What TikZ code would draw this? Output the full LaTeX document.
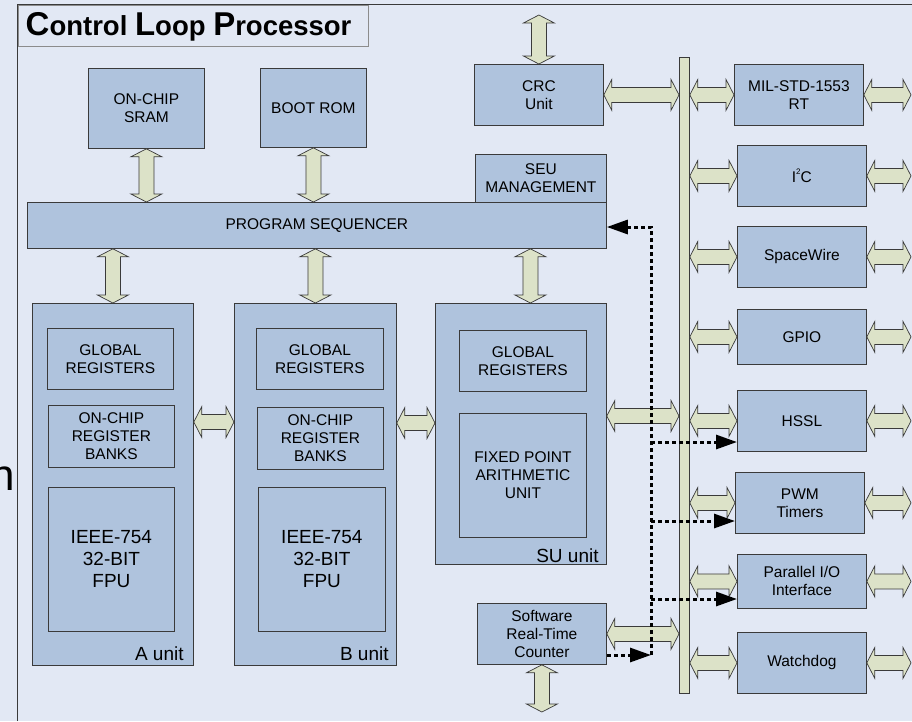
\documentclass[tikz,border=0pt]{standalone}
\usepackage{fontspec}
\setmainfont{Liberation Sans}
\usetikzlibrary{calc,arrows.meta}

\definecolor{bg}{HTML}{E2E8F4}
\definecolor{boxfill}{HTML}{AFC3DD}
\definecolor{pipe}{HTML}{DCE2C8}
\definecolor{edge}{HTML}{3A3A3A}
\definecolor{framegray}{HTML}{8C8C8C}

\newcommand\bx{\fontsize{15.5}{18}\selectfont}
\newcommand\bigbx{\fontsize{19}{22}\selectfont}

% wide two-headed bus arrow between two points
\newcommand\fatarrow[2]{%
  \path[fatbody] let \p1=#1, \p2=#2,
      \n1={atan2(\y2-\y1,\x2-\x1)},
      \n2={veclen(\x2-\x1,\y2-\y1)} in
    [shift={(\x1,\y1)}, rotate=\n1]
    (0pt,0pt) -- (8pt,15.5pt) -- (8pt,7.5pt) -- (\n2-8pt,7.5pt) -- (\n2-8pt,15.5pt)
    -- (\n2,0pt) -- (\n2-8pt,-15.5pt) -- (\n2-8pt,-7.5pt) -- (8pt,-7.5pt)
    -- (8pt,-15.5pt) -- cycle;}

\begin{document}
\begin{tikzpicture}[x=1pt,y=-1pt,
  blk/.style={draw=edge, fill=boxfill, line width=0.8pt, anchor=north west,
    align=center, inner sep=0pt, font=\bx},
  fatbody/.style={draw=edge, fill=pipe, line width=0.7pt, line join=miter},
  sig/.style={draw=black, line width=3pt, dash pattern=on 4pt off 3pt},
  tip/.style={-{Triangle[length=21pt,width=14pt]}},
  unitlbl/.style={anchor=base east, inner sep=0pt, font=\bigbx}]

% canvas
\fill[bg] (0,0) rectangle (912,721);
\useasboundingbox (0,0) rectangle (912,721);

% fragment of a word standing left of the frame
\node[anchor=base east, inner sep=0pt, font=\fontsize{44}{44}\selectfont] (frag) at (15,490) {n};

% title tab
\node[draw=framegray, line width=0.8pt, fill=bg, anchor=north west,
  minimum width=350pt, minimum height=41pt, inner sep=0pt] (tab) at (17.5,4.5) {};
\node[anchor=base west, inner sep=0pt, font=\bfseries] (title) at (25.5,35)
  {{\fontsize{33}{33}\selectfont C}{\fontsize{27.5}{33}\selectfont ontrol }%
   {\fontsize{33}{33}\selectfont L}{\fontsize{27.5}{33}\selectfont oop }%
   {\fontsize{33}{33}\selectfont P}{\fontsize{27.5}{33}\selectfont rocessor}};

% outer frame
\draw[edge, line width=1.6pt] (17.5,721) -- (17.5,4.5) -- (912,4.5);

% memories and sequencer
\node[blk, minimum width=116pt, minimum height=80pt] (sram) at (88,68) {ON-CHIP\\SRAM};
\node[blk, minimum width=106pt, minimum height=79pt] (boot) at (260,68) {BOOT ROM};
\node[blk, minimum width=129pt, minimum height=61pt] (crc) at (474,64) {CRC\\Unit};
\node[blk, minimum width=131pt, minimum height=48pt] (seu) at (475,154) {SEU\\MANAGEMENT};
\node[blk, minimum width=579pt, minimum height=46pt] (ps) at (27,202) {PROGRAM SEQUENCER};

% A unit
\node[blk, minimum width=161pt, minimum height=362pt] (aunit) at (32,303) {};
\node[blk, minimum width=126pt, minimum height=61pt] (aglob) at (47,328) {GLOBAL\\REGISTERS};
\node[blk, minimum width=126pt, minimum height=62pt] (abank) at (48,405) {ON-CHIP\\REGISTER\\BANKS};
\node[blk, minimum width=126pt, minimum height=144pt, font=\bigbx] (afpu) at (48,487) {IEEE-754\\32-BIT\\FPU};
\node[unitlbl] (alabel) at ([shift={(-10,-5)}]aunit.south east) {A unit};

% B unit
\node[blk, minimum width=162pt, minimum height=362pt] (bunit) at (234,303) {};
\node[blk, minimum width=127pt, minimum height=61pt] (bglob) at (256,328) {GLOBAL\\REGISTERS};
\node[blk, minimum width=126pt, minimum height=62pt] (bbank) at (257,407) {ON-CHIP\\REGISTER\\BANKS};
\node[blk, minimum width=127pt, minimum height=144pt, font=\bigbx] (bfpu) at (258,487) {IEEE-754\\32-BIT\\FPU};
\node[unitlbl] (blabel) at ([shift={(-8,-5)}]bunit.south east) {B unit};

% SU unit
\node[blk, minimum width=171pt, minimum height=261pt] (su) at (435,303) {};
\node[blk, minimum width=127pt, minimum height=61pt] (suglob) at (459,330) {GLOBAL\\REGISTERS};
\node[blk, minimum width=127pt, minimum height=124pt] (fpa) at (459,413) {FIXED POINT\\ARITHMETIC\\UNIT};
\node[unitlbl] (sulabel) at ([shift={(-8,-2)}]su.south east) {SU unit};

% real-time counter
\node[blk, minimum width=129pt, minimum height=61pt] (rtc) at (477,603) {Software\\Real-Time\\Counter};

% peripheral bus and peripherals
\node[draw=edge, fill=pipe, line width=0.8pt, anchor=north west, inner sep=0pt,
  minimum width=10pt, minimum height=636pt] (bus) at (679,57) {};
\node[blk, minimum width=129pt, minimum height=61pt] (mil) at (734,64) {MIL-STD-1553\\RT};
\node[blk, minimum width=129pt, minimum height=61pt] (iic) at (737,145)
  {I\raisebox{0.5em}{\fontsize{8}{8}\selectfont 2}C};
\node[blk, minimum width=129pt, minimum height=61pt] (spw) at (737,226) {SpaceWire};
\node[blk, minimum width=129pt, minimum height=55pt] (gpio) at (737,309) {GPIO};
\node[blk, minimum width=129pt, minimum height=61pt] (hssl) at (737,390) {HSSL};
\node[blk, minimum width=129pt, minimum height=61pt] (pwm) at (735,472) {PWM\\Timers};
\node[blk, minimum width=129pt, minimum height=54pt] (pio) at (737,554) {Parallel I/O\\Interface};
\node[blk, minimum width=129pt, minimum height=61pt] (wdog) at (737,632) {Watchdog};

% free ends of external links
\coordinate (crcio) at (crc.north |- 0,15);
\coordinate (rtcio) at (rtc.south |- 0,712);
\coordinate (milio) at (mil.east -| 911,0);
\coordinate (iicio) at (iic.east -| 911,0);
\coordinate (spwio) at (spw.east -| 911,0);
\coordinate (gpioio) at (gpio.east -| 911,0);
\coordinate (hsslio) at (hssl.east -| 911,0);
\coordinate (pwmio) at (pwm.east -| 911,0);
\coordinate (pioio) at (pio.east -| 911,0);
\coordinate (wdogio) at (wdog.east -| 911,0);

% data paths
\fatarrow{(crcio)}{(crc.north)}
\fatarrow{(sram.south)}{(sram.south |- ps.north)}
\fatarrow{(boot.south)}{(boot.south |- ps.north)}
\fatarrow{(aunit.north |- ps.south)}{(aunit.north)}
\fatarrow{(bunit.north |- ps.south)}{(bunit.north)}
\fatarrow{([xshift=9.5pt]su.north |- ps.south)}{([xshift=9.5pt]su.north)}
\fatarrow{(rtc.south)}{(rtcio)}

\fatarrow{(aunit.east |- 0,422)}{(bunit.west |- 0,422)}
\fatarrow{(bunit.east |- 0,423)}{(su.west |- 0,423)}
\fatarrow{(su.east |- 0,416)}{(bus.west |- 0,416)}
\fatarrow{(crc.east)}{(bus.west |- crc.east)}
\fatarrow{(rtc.east)}{(bus.west |- rtc.east)}

\fatarrow{(bus.east |- mil.west)}{(mil.west)}
\fatarrow{(bus.east |- iic.west)}{(iic.west)}
\fatarrow{(bus.east |- spw.west)}{(spw.west)}
\fatarrow{(bus.east |- gpio.west)}{(gpio.west)}
\fatarrow{(bus.east |- hssl.west)}{(hssl.west)}
\fatarrow{(bus.east |- pwm.west)}{(pwm.west)}
\fatarrow{(bus.east |- pio.west)}{(pio.west)}
\fatarrow{(bus.east |- wdog.west)}{(wdog.west)}

\fatarrow{(mil.east)}{(milio)}
\fatarrow{(iic.east)}{(iicio)}
\fatarrow{(spw.east)}{(spwio)}
\fatarrow{(gpio.east)}{(gpioio)}
\fatarrow{(hssl.east)}{(hsslio)}
\fatarrow{(pwm.east)}{(pwmio)}
\fatarrow{(pio.east)}{(pioio)}
\fatarrow{(wdog.east)}{(wdogio)}

% timer event lines
\coordinate (jn) at (651,655);
\coordinate (jtop) at (651,227);
\draw[sig, tip] (rtc.east |- jn) -- (jn);
\draw[sig, tip] (jn) -- (jtop) -- (ps.east |- jtop);
\draw[sig, tip] (jn |- 0,442) -- (hssl.west |- 0,442);
\draw[sig, tip] (jn |- 0,521) -- (pwm.west |- 0,521);
\draw[sig, tip] (jn |- 0,599) -- (pio.west |- 0,599);
\end{tikzpicture}
\end{document}
